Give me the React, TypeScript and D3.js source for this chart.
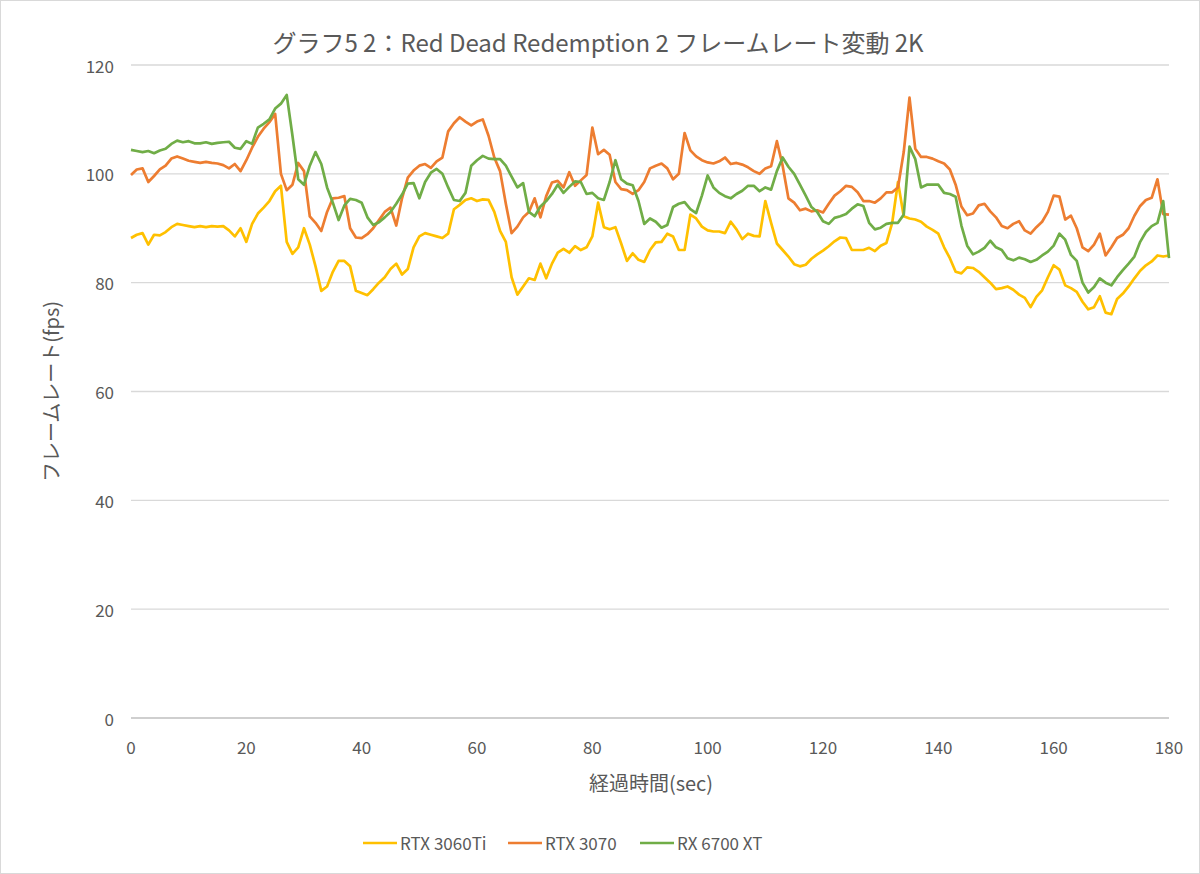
import React from "react";
import * as d3 from "d3";

const seconds: number[] = Array.from({ length: 181 }, (_, i) => i);

const rtx3060ti: number[] = [
  88.2, 88.8, 89.1, 87.0, 88.8, 88.7, 89.3, 90.2, 90.8, 90.6,
  90.4, 90.2, 90.4, 90.2, 90.4, 90.3, 90.4, 89.6, 88.5, 90.0,
  87.5, 90.8, 92.7, 93.8, 95.0, 96.8, 97.8, 87.5, 85.3, 86.5,
  90.0, 87.0, 83.0, 78.5, 79.3, 82.0, 84.0, 84.0, 83.0, 78.5,
  78.1, 77.7, 78.8, 80.0, 81.0, 82.5, 83.5, 81.5, 82.5, 86.5,
  88.5, 89.1, 88.8, 88.5, 88.2, 89.0, 93.5, 94.3, 95.2, 95.5,
  95.0, 95.3, 95.2, 93.0, 89.5, 87.5, 81.0, 77.8, 79.3, 80.8,
  80.5, 83.5, 80.8, 83.5, 85.5, 86.2, 85.5, 86.7, 86.0, 86.5,
  88.5, 94.7, 90.2, 89.8, 90.2, 87.2, 84.0, 85.4, 84.2, 83.8,
  86.0, 87.4, 87.5, 89.0, 88.5, 86.0, 86.0, 92.5, 91.8, 90.3,
  89.6, 89.4, 89.4, 89.1, 91.2, 89.8, 88.0, 89.0, 88.6, 88.5,
  95.0, 91.0, 87.2, 86.0, 84.8, 83.4, 83.0, 83.3, 84.4, 85.2,
  85.9, 86.7, 87.6, 88.3, 88.2, 86.0, 86.0, 86.0, 86.4, 85.8,
  86.8, 87.3, 91.0, 98.5, 92.2, 91.8, 91.6, 91.2, 90.3, 89.7,
  89.0, 86.5, 84.5, 82.0, 81.7, 82.8, 82.7, 82.0, 81.0, 80.0,
  78.8, 79.0, 79.3, 78.7, 77.8, 77.2, 75.5, 77.4, 78.6, 81.0,
  83.2, 82.4, 79.5, 79.0, 78.3, 76.5, 75.1, 75.5, 77.5, 74.5,
  74.2, 77.0, 78.0, 79.3, 80.8, 82.2, 83.2, 83.9, 85.0, 84.8,
  85.0,
];

const rtx3070: number[] = [
  99.8, 100.8, 101.0, 98.5, 99.6, 100.8, 101.5, 102.8, 103.2, 102.8,
  102.4, 102.2, 102.0, 102.2, 102.0, 101.9, 101.6, 101.0, 101.8, 100.5,
  102.5, 104.8, 106.8, 108.3, 109.5, 111.0, 100.0, 97.0, 98.0, 102.0,
  100.5, 92.2, 91.0, 89.5, 93.0, 95.5, 95.6, 95.9, 90.0, 88.3,
  88.2, 88.9, 90.0, 91.5, 93.0, 93.8, 90.5, 95.5, 99.3, 100.6,
  101.5, 101.8, 101.1, 102.3, 103.0, 107.8, 109.3, 110.4, 109.6, 108.9,
  109.6, 110.0, 107.0, 103.0, 100.5, 94.5, 89.1, 90.3, 92.0, 93.0,
  95.5, 92.0, 95.9, 98.4, 98.7, 97.5, 100.3, 97.8, 98.8, 99.8,
  108.5, 103.6, 104.4, 103.5, 98.5, 97.2, 97.0, 96.3, 97.0, 98.5,
  101.0, 101.5, 101.9, 101.0, 99.0, 100.0, 107.5, 104.3, 103.2, 102.5,
  102.1, 101.9, 102.3, 103.0, 101.8, 102.0, 101.7, 101.2, 100.5, 100.0,
  101.0, 101.4, 106.0, 101.5, 95.5, 94.7, 93.3, 93.6, 93.1, 93.3,
  92.9, 94.5, 96.0, 96.8, 97.8, 97.6, 96.6, 95.0, 95.0, 94.7,
  95.5, 96.6, 96.6, 97.5, 104.0, 114.0, 104.6, 103.1, 103.1, 102.8,
  102.3, 101.9, 100.8, 98.0, 94.0, 92.4, 92.7, 94.2, 94.5, 93.1,
  92.0, 90.4, 90.0, 90.8, 91.3, 89.6, 89.0, 90.2, 91.2, 93.0,
  96.0, 95.8, 91.6, 92.3, 90.0, 86.5, 85.8, 87.0, 89.0, 85.0,
  86.5, 88.2, 88.8, 90.0, 92.3, 94.1, 95.2, 95.6, 99.0, 92.6,
  92.5,
];

const rx6700xt: number[] = [
  104.4, 104.2, 104.0, 104.2, 103.8, 104.3, 104.6, 105.5, 106.1, 105.8,
  106.0, 105.6, 105.6, 105.8, 105.5, 105.7, 105.8, 105.9, 104.8, 104.6,
  106.0, 105.5, 108.5, 109.2, 110.0, 112.0, 112.9, 114.5, 107.0, 99.0,
  98.0, 101.5, 104.0, 101.8, 97.5, 94.7, 91.5, 94.2, 95.4, 95.2,
  94.7, 92.0, 90.6, 91.1, 92.0, 93.0, 94.5, 96.2, 98.2, 98.3,
  95.5, 98.5, 100.2, 100.9, 100.0, 97.5, 95.2, 95.0, 96.5, 101.5,
  102.5, 103.3, 102.8, 102.7, 102.7, 101.5, 99.5, 97.5, 98.3, 93.0,
  92.2, 94.0, 95.0, 96.3, 98.0, 96.5, 97.6, 98.6, 98.5, 96.3,
  96.5, 95.5, 95.2, 98.5, 102.5, 99.0, 98.2, 97.9, 95.0, 90.8,
  91.8, 91.2, 90.1, 90.6, 93.9, 94.5, 94.8, 93.5, 92.8, 96.0,
  99.7, 97.5, 96.5, 95.9, 95.5, 96.3, 96.9, 97.8, 97.8, 96.8,
  97.5, 97.1, 100.5, 103.0, 101.3, 100.0, 98.0, 96.0, 93.9, 93.0,
  91.3, 90.8, 91.9, 92.2, 92.6, 93.6, 94.4, 94.1, 91.0, 89.8,
  90.1, 90.8, 91.0, 91.0, 92.5, 105.0, 102.7, 97.5, 98.0, 98.0,
  98.0, 96.5, 96.3, 95.8, 90.5, 86.8, 85.2, 85.7, 86.4, 87.7,
  86.5, 86.0, 84.5, 84.1, 84.6, 84.3, 83.8, 84.2, 85.0, 85.7,
  86.8, 89.0, 87.9, 85.1, 84.0, 80.0, 78.2, 79.2, 80.8, 80.0,
  79.5, 81.0, 82.3, 83.5, 84.8, 87.5, 89.3, 90.4, 91.0, 95.0,
  84.5,
];

const seriesNames: string[] = ["RTX 3060Ti", "RTX 3070", "RX 6700 XT"];
const seriesColors: string[] = ["#FFC000", "#ED7D31", "#70AD47"];
const yTicks: number[] = [0, 20, 40, 60, 80, 100, 120];
const xTicks: number[] = [0, 20, 40, 60, 80, 100, 120, 140, 160, 180];

const W = 1200;
const H = 874;
const FONT = "'Noto Sans CJK JP', 'Noto Sans', sans-serif";
const TXT = "#595959";

export default function App() {
  const x = d3.scaleLinear().domain([0, 180]).range([131, 1169]);
  const y = d3.scaleLinear().domain([0, 120]).range([718, 65]);
  const allSeries = [rtx3060ti, rtx3070, rx6700xt];
  const line = d3
    .line<number>()
    .x((_, i) => x(seconds[i]))
    .y((d) => y(d));

  const legendX = [363, 508, 640];

  return (
    <svg
      width={W}
      height={H}
      style={{ position: "absolute", left: 0, top: 0, background: "#fff" }}
      fontFamily={FONT}
    >
      <rect x={0.5} y={0.5} width={W - 1} height={H - 1} fill="#fff" stroke="#d9d9d9" />
      <text x={598} y={41} textAnchor="middle" dominantBaseline="central" fontSize={24} fill={TXT}>
        グラフ5 2：Red Dead Redemption 2 フレームレート変動 2K
      </text>
      {yTicks.map((t) => (
        <g key={t}>
          <line
            x1={x(0)}
            x2={x(180)}
            y1={y(t)}
            y2={y(t)}
            stroke={t === 0 ? "#bfbfbf" : "#d9d9d9"}
            strokeWidth={1.3}
          />
          <text x={114} y={y(t)} textAnchor="end" dominantBaseline="central" fontSize={17} fill={TXT}>
            {t}
          </text>
        </g>
      ))}
      {xTicks.map((t) => (
        <text key={t} x={x(t)} y={746} textAnchor="middle" dominantBaseline="central" fontSize={17} fill={TXT}>
          {t}
        </text>
      ))}
      <text x={651} y={782} textAnchor="middle" dominantBaseline="central" fontSize={20} fill={TXT}>
        経過時間(sec)
      </text>
      <text
        transform={`translate(50, ${y(60)}) rotate(-90)`}
        textAnchor="middle"
        dominantBaseline="central"
        fontSize={20}
        fill={TXT}
      >
        フレームレート(fps)
      </text>
      {allSeries.map((s, i) => (
        <path
          key={seriesNames[i]}
          d={line(s) || ""}
          fill="none"
          stroke={seriesColors[i]}
          strokeWidth={2.7}
          strokeLinejoin="round"
        />
      ))}
      {seriesNames.map((n, i) => (
        <g key={n}>
          <line
            x1={legendX[i]}
            x2={legendX[i] + 34}
            y1={843}
            y2={843}
            stroke={seriesColors[i]}
            strokeWidth={2.7}
          />
          <text x={legendX[i] + 37} y={842} dominantBaseline="central" fontSize={17} fill={TXT}>
            {n}
          </text>
        </g>
      ))}
    </svg>
  );
}
